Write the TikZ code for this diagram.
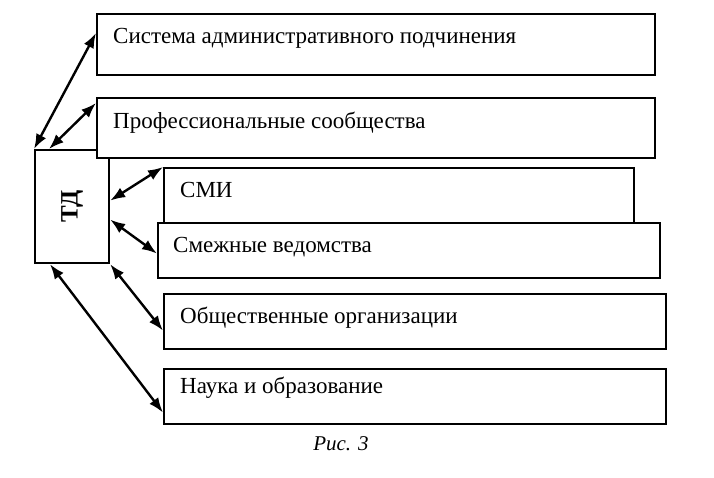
\documentclass[tikz,border=0pt]{standalone}
\usepackage{fontspec}
\setmainfont{Liberation Serif}
\usepackage{tikz}
\usetikzlibrary{positioning}
\usetikzlibrary{arrows.meta}

\begin{document}
\begin{tikzpicture}[x=1pt, y=-1pt,
  box/.style={draw, line width=2.2pt, fill=white, anchor=north west, inner sep=0pt},
  lbl/.style={anchor=base west, inner sep=0pt, font=\fontsize{23}{27}\selectfont},
  link/.style={line width=2.4pt, {Latex[length=15pt,width=11pt]}-{Latex[length=15pt,width=11pt]}}]
  \useasboundingbox (0,0) rectangle (714,477);

  % boxes
  \node [box, minimum width=74pt, minimum height=113pt] (td) at (34,149) {};
  \node [box, minimum width=558pt, minimum height=61pt] (sys) at (96,13) {};
  \node [box, minimum width=558pt, minimum height=60pt] (prof) at (96,97) {};
  \node [box, minimum width=470pt, minimum height=55pt] (smi) at (163,167) {};
  \node [box, minimum width=502pt, minimum height=55pt] (smezh) at (157,222) {};
  \node [box, minimum width=502pt, minimum height=55pt] (obsh) at (163,293) {};
  \node [box, minimum width=502pt, minimum height=55pt] (nauka) at (163,368) {};

  % texts
  \node [lbl] (sys-t) at (113,43) {Система административного подчинения};
  \node [lbl] (prof-t) at (113,128) {Профессиональные сообщества};
  \node [lbl] (smi-t) at (180,197) {СМИ};
  \node [lbl] (smezh-t) at (173,252) {Смежные ведомства};
  \node [lbl] (obsh-t) at (180,323) {Общественные организации};
  \node [lbl] (nauka-t) at (180,393) {Наука и образование};
  \node [rotate=90, font=\fontsize{25}{30}\selectfont\bfseries] (td-t) at (td.center) {ТД};

  % links
  \draw [link] (td.north west) -- ([yshift=-20pt]sys.north west);
  \draw [link] ([xshift=15pt]td.north west) -- ([yshift=-6pt]prof.north west);
  \draw [link] ([yshift=6pt]td.east) -- (smi.north west);
  \draw [link] ([yshift=-13pt]td.east) -- ([yshift=-3pt]smezh.west);
  \draw [link] (td.south east) -- ([yshift=-9pt]obsh.west);
  \draw [link] ([xshift=16pt]td.south west) -- ([yshift=-16pt]nauka.west);

  \node [font=\fontsize{21}{25}\selectfont\itshape] (cap) at (341,444) {Рис. 3};
\end{tikzpicture}
\end{document}
